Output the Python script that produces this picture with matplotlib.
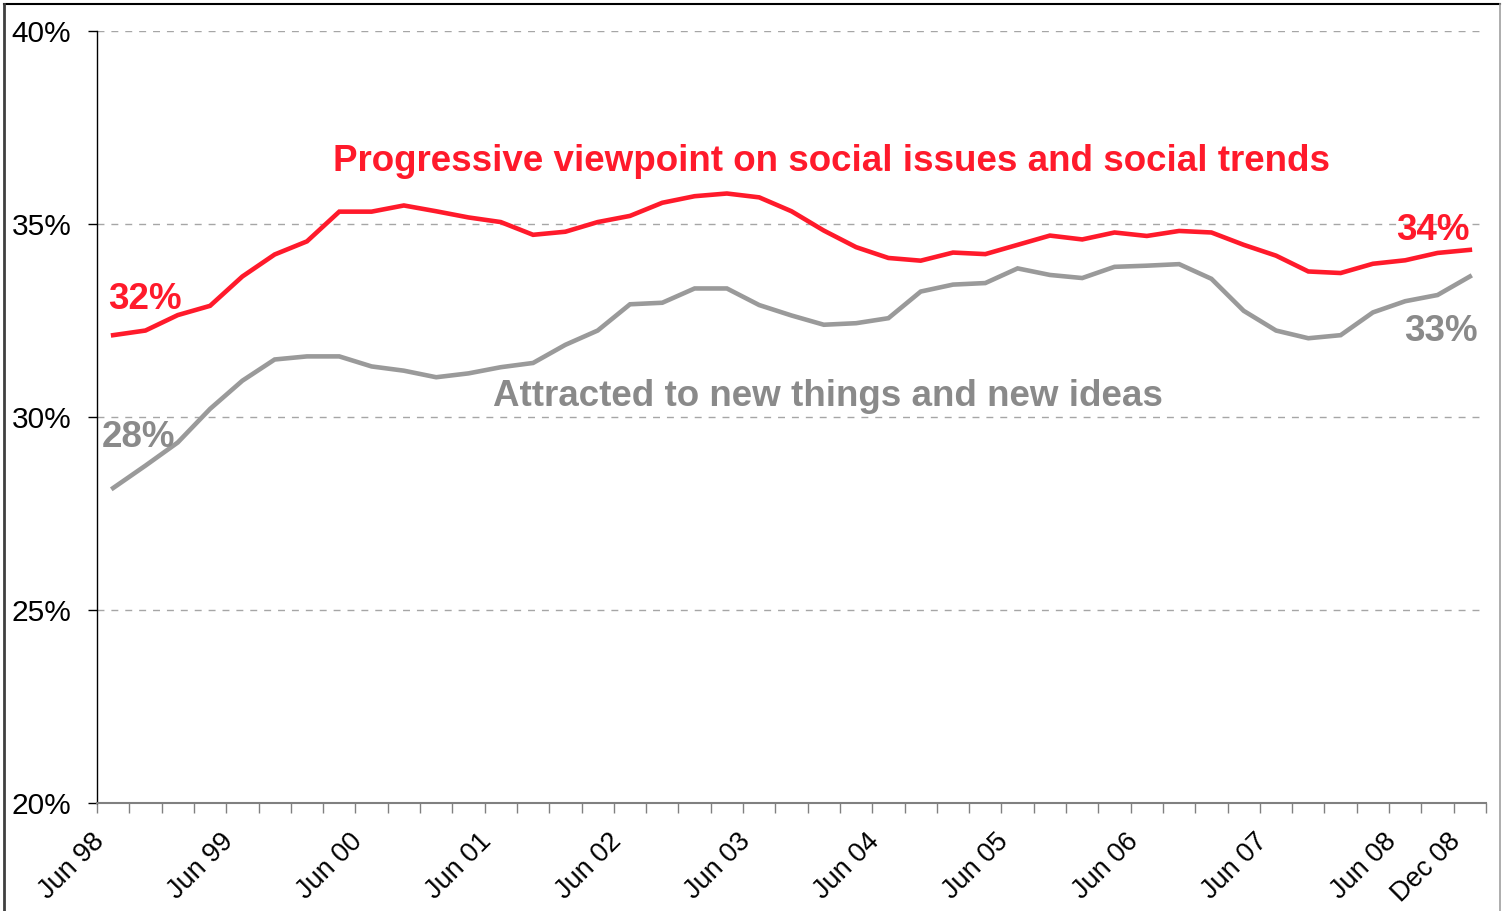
import matplotlib
matplotlib.use("Agg")
import matplotlib.pyplot as plt
from matplotlib.ticker import FixedLocator, NullFormatter, FuncFormatter
from matplotlib.transforms import ScaledTranslation

plt.rcParams['font.family'] = ['Liberation Sans', 'DejaVu Sans']

# Quarterly readings, Jun 98 .. Dec 08
quarters = []
for yr in range(1998, 2009):
    for mon in ("Mar", "Jun", "Sep", "Dec"):
        quarters.append(f"{mon} {yr % 100:02d}")
quarters = quarters[1:]  # series starts at Jun 98

progressive = [32.12, 32.24, 32.64, 32.88, 33.64, 34.21, 34.55, 35.32, 35.32, 35.48,
               35.33, 35.17, 35.05, 34.72, 34.80, 35.05, 35.21, 35.55, 35.72, 35.79,
               35.69, 35.33, 34.83, 34.40, 34.12, 34.05, 34.26, 34.22, 34.46, 34.70,
               34.60, 34.78, 34.69, 34.82, 34.78, 34.46, 34.18, 33.77, 33.73, 33.97,
               34.06, 34.25, 34.33]
attracted = [28.16, 28.74, 29.34, 30.21, 30.94, 31.49, 31.57, 31.57, 31.31, 31.20,
             31.03, 31.13, 31.29, 31.40, 31.87, 32.24, 32.92, 32.96, 33.33, 33.33,
             32.90, 32.63, 32.39, 32.43, 32.56, 33.25, 33.43, 33.47, 33.85, 33.68,
             33.60, 33.89, 33.92, 33.96, 33.58, 32.75, 32.24, 32.04, 32.12, 32.71,
             33.00, 33.16, 33.64]
quarters = quarters[:len(progressive)]

tick_labels = ["Jun 98", "Jun 99", "Jun 00", "Jun 01", "Jun 02", "Jun 03",
               "Jun 04", "Jun 05", "Jun 06", "Jun 07", "Jun 08", "Dec 08"]

series_names = ["Progressive viewpoint on social issues and social trends",
                "Attracted to new things and new ideas"]
start_labels = ["32%", "28%"]
end_labels = ["34%", "33%"]

RED = "#ff1a2b"
GREY = "#9a9a9a"
GREY_TEXT = "#8a8a8a"
LABEL_SIZE = 26.5

fig = plt.figure(figsize=(15.02, 9.11), dpi=100)
ax = fig.add_axes([97 / 1502, 1 - 803 / 911, (1486 - 97) / 1502, (803 - 31) / 911])

x = list(range(len(progressive)))
ax.plot(x, attracted, color=GREY, lw=3.3, solid_joinstyle="miter", zorder=3)
ax.plot(x, progressive, color=RED, lw=3.3, solid_joinstyle="miter", zorder=4)

ax.set_xlim(-0.5, len(x) - 0.5)
ax.set_ylim(20, 40)

# y axis
ax.set_yticks([20, 25, 30, 35, 40])
ax.yaxis.set_major_formatter(FuncFormatter(lambda v, p: f"{v:.0f}%"))
ax.tick_params(axis="y", direction="out", length=6.5, width=1, color="black",
               labelsize=21.5, pad=12)
for yv in [25, 30, 35, 40]:
    ax.axhline(yv, color="#a6a6a6", lw=1, ls=(0, (5, 5)), zorder=1)

# x axis: boundary ticks between quarters, labels at selected quarters
ax.xaxis.set_major_locator(FixedLocator([i - 0.5 for i in range(len(x) + 1)]))
ax.xaxis.set_major_formatter(NullFormatter())
ax.tick_params(axis="x", which="major", direction="out", length=7.2, width=1,
               color="#808080")
label_pos = [quarters.index(t) for t in tick_labels]
ax.xaxis.set_minor_locator(FixedLocator(label_pos))
ax.set_xticklabels(tick_labels, minor=True)
ax.tick_params(axis="x", which="minor", length=0, labelsize=19.5, pad=18)
shift = ScaledTranslation(-22 / 100, 0, fig.dpi_scale_trans)
for lbl in ax.get_xticklabels(minor=True):
    lbl.set_rotation(45)
    lbl.set_ha("right")
    lbl.set_va("top")
    lbl.set_rotation_mode("anchor")
    lbl.set_transform(lbl.get_transform() + shift)

for side in ("top", "right"):
    ax.spines[side].set_visible(False)
ax.spines["left"].set_color("black")
ax.spines["left"].set_linewidth(1)
ax.spines["bottom"].set_color("#808080")
ax.spines["bottom"].set_linewidth(1.5)

# series annotations
ax.text(22.23, 36.63, series_names[0], color=RED, fontsize=LABEL_SIZE, fontweight="bold",
        ha="center", va="center")
ax.text(22.12, 30.54, series_names[1], color=GREY_TEXT, fontsize=LABEL_SIZE,
        fontweight="bold", ha="center", va="center")
ax.text(-0.17, 33.05, start_labels[0], color=RED, fontsize=LABEL_SIZE, fontweight="bold",
        ha="left", va="center")
ax.text(-0.35, 29.47, start_labels[1], color=GREY_TEXT, fontsize=LABEL_SIZE,
        fontweight="bold", ha="left", va="center")
ax.text(42.0, 34.82, end_labels[0], color=RED, fontsize=LABEL_SIZE, fontweight="bold",
        ha="right", va="center")
ax.text(42.25, 32.22, end_labels[1], color=GREY_TEXT, fontsize=LABEL_SIZE,
        fontweight="bold", ha="right", va="center")

# outer frame
fig.add_artist(plt.Line2D([4 / 1502, 1500 / 1502], [1 - 4 / 911, 1 - 4 / 911],
                          transform=fig.transFigure, color="black", lw=1.5))
fig.add_artist(plt.Line2D([4 / 1502, 4 / 1502], [0, 1 - 4 / 911],
                          transform=fig.transFigure, color="#404040", lw=2))
fig.add_artist(plt.Line2D([1500 / 1502, 1500 / 1502], [0, 1 - 4 / 911],
                          transform=fig.transFigure, color="#a0a0a0", lw=1.2))

fig.savefig("out.png", dpi=100)
